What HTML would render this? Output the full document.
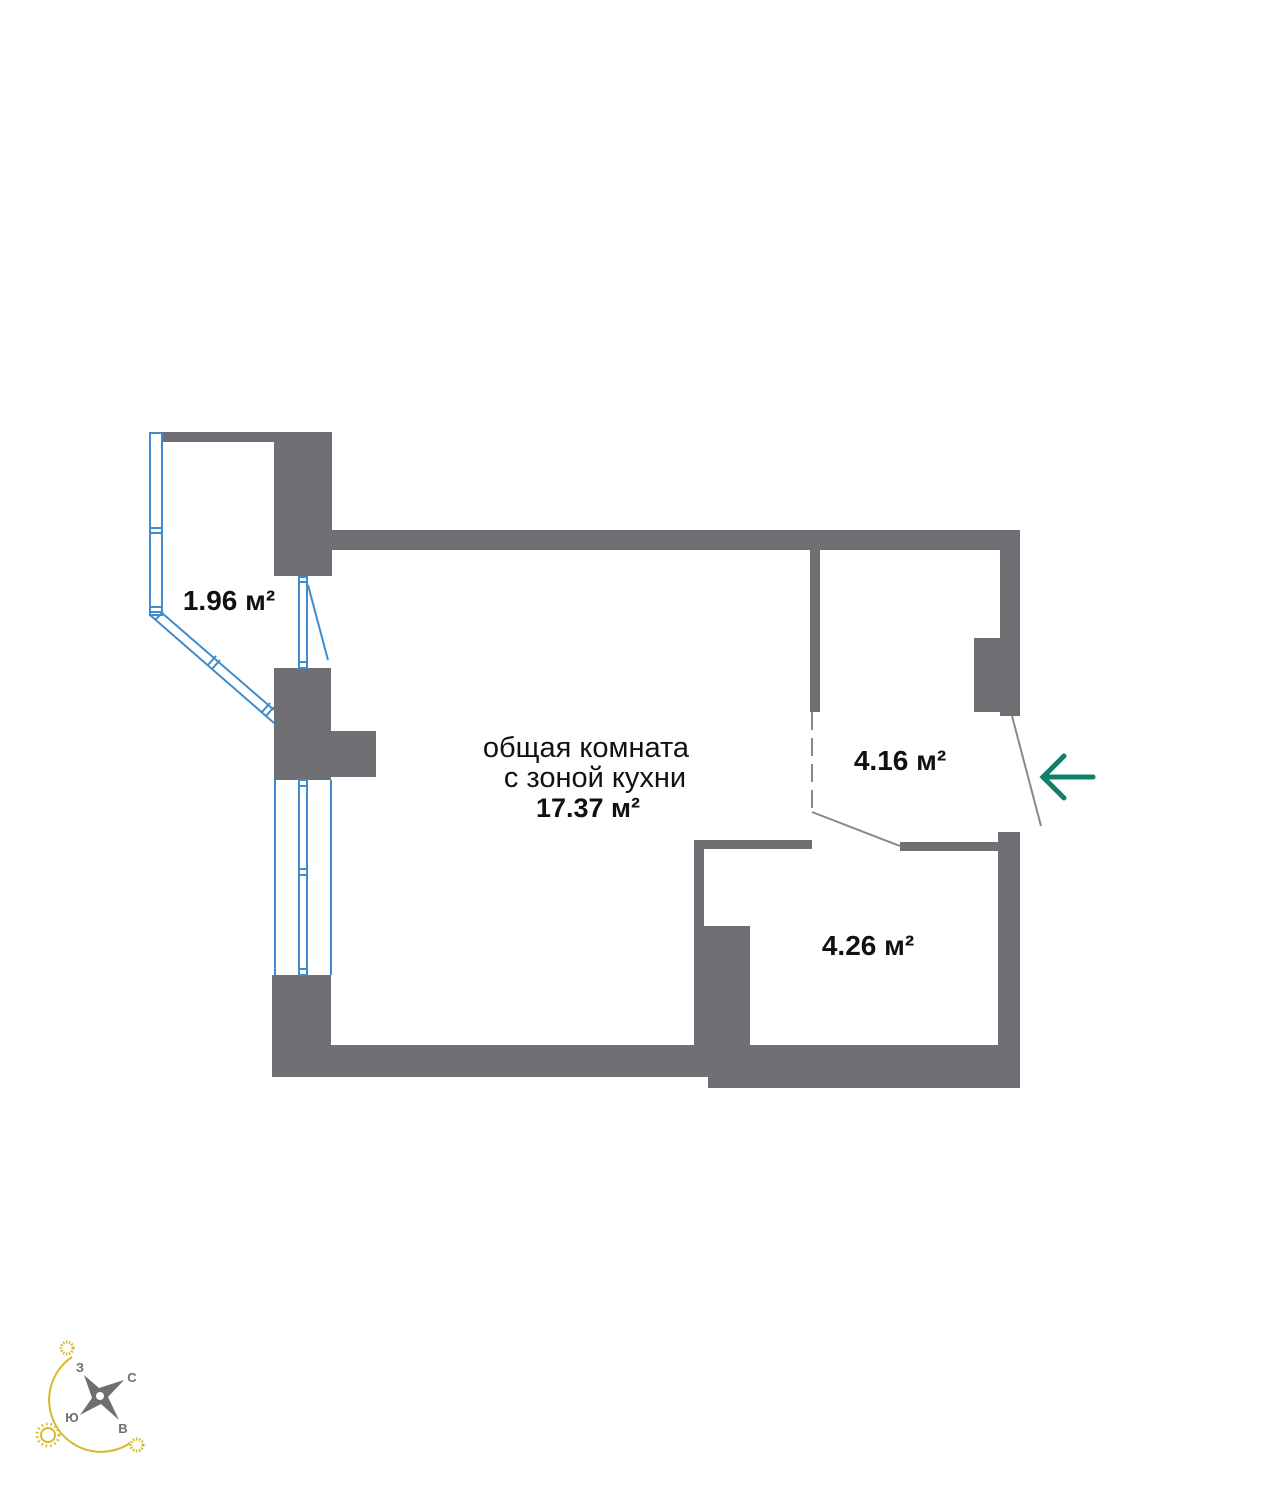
<!DOCTYPE html>
<html><head><meta charset="utf-8"><style>
html,body{margin:0;padding:0;background:#fff}
svg{display:block}
text{font-family:"Liberation Sans",sans-serif}
</style></head><body>
<svg width="1271" height="1495" viewBox="0 0 1271 1495" xmlns="http://www.w3.org/2000/svg">
<g fill="#706f73">
<rect x="163" y="432" width="168" height="10"/>
<rect x="274" y="432" width="58" height="144"/>
<rect x="331" y="530" width="689" height="20"/>
<rect x="1000" y="530" width="20" height="186"/>
<rect x="810" y="550" width="10" height="162"/>
<rect x="974" y="638" width="26" height="74"/>
<rect x="998" y="832" width="22" height="256"/>
<rect x="272" y="1045" width="748" height="32"/>
<rect x="708" y="1077" width="312" height="11"/>
<rect x="272" y="975" width="59" height="102"/>
<rect x="274" y="668" width="57" height="112"/>
<rect x="331" y="731" width="45" height="46"/>
<rect x="694" y="840" width="10" height="205"/>
<rect x="694" y="840" width="118" height="9"/>
<rect x="900" y="842" width="98" height="9"/>
<rect x="702" y="926" width="48" height="119"/>
</g>
<g stroke="#888" stroke-width="2" fill="none">
<line x1="812" y1="812" x2="900" y2="846"/>
<line x1="1012" y1="716" x2="1041" y2="826"/>
<line x1="812" y1="712" x2="812" y2="812" stroke-dasharray="18,8"/>
</g>
<g stroke="#3f8ccc" stroke-width="2" fill="none">
<rect x="150" y="433" width="12" height="182"/>
<line x1="150" y1="528" x2="162" y2="528"/><line x1="150" y1="533" x2="162" y2="533"/>
<line x1="150" y1="607" x2="162" y2="607"/><line x1="150" y1="612" x2="162" y2="612"/>
<line x1="150" y1="615" x2="274" y2="723"/>
<line x1="162" y1="613" x2="274" y2="710"/>
<line x1="208" y1="665" x2="216" y2="656"/><line x1="212" y1="669" x2="220" y2="660"/>
<line x1="262" y1="712" x2="270" y2="703"/><line x1="266" y1="716" x2="274" y2="707"/>
<line x1="155" y1="620" x2="163" y2="612"/>
<rect x="299" y="577" width="8" height="91"/>
<line x1="299" y1="582" x2="307" y2="582"/><line x1="299" y1="662" x2="307" y2="662"/>
<line x1="308" y1="585" x2="328" y2="660"/>
<line x1="275" y1="780" x2="275" y2="975"/>
<line x1="331" y1="780" x2="331" y2="975"/>
<rect x="299" y="780" width="8" height="195"/>
<line x1="299" y1="786" x2="307" y2="786"/><line x1="299" y1="969" x2="307" y2="969"/>
<line x1="299" y1="869" x2="307" y2="869"/><line x1="299" y1="875" x2="307" y2="875"/>
</g>
<g fill="#111" text-anchor="middle">
<text x="586" y="757" font-size="29">общая комната</text>
<text x="595" y="787" font-size="29">с зоной кухни</text>
<text x="588" y="817" font-size="27" font-weight="bold">17.37 м²</text>
<text x="229" y="610" font-size="28" font-weight="bold">1.96 м²</text>
<text x="900" y="770" font-size="28" font-weight="bold">4.16 м²</text>
<text x="868" y="955" font-size="28" font-weight="bold">4.26 м²</text>
</g>
<g stroke="#11806a" stroke-width="5" stroke-linecap="round" fill="none">
<line x1="1043" y1="777" x2="1093" y2="777"/>
<polyline points="1064,756 1043,777 1064,798"/>
</g>
<g>
<path d="M72 1357 A48 48 0 0 0 130 1443" stroke="#d8b82a" stroke-width="2" fill="none"/>
<circle cx="67" cy="1348" r="6" fill="none" stroke="#d8b82a" stroke-width="3" stroke-dasharray="1.5,1.5"/>
<circle cx="137" cy="1445" r="6" fill="none" stroke="#d8b82a" stroke-width="3" stroke-dasharray="1.5,1.5"/>
<circle cx="48" cy="1435" r="7" stroke="#d8b82a" stroke-width="2" fill="#fff"/>
<circle cx="48" cy="1435" r="11" stroke="#d8b82a" stroke-width="3" fill="none" stroke-dasharray="1.5,3"/>
<polygon points="84,1375 99,1388 124,1380 108,1397 119,1420 101,1404 80,1415 92,1398" fill="#6f6f73"/>
<circle cx="100" cy="1396" r="4" fill="#fff"/>
<g fill="#6f6f73" font-size="13" font-weight="bold" text-anchor="middle">
<text x="80" y="1372">З</text><text x="132" y="1382">С</text>
<text x="72" y="1422">Ю</text><text x="123" y="1433">В</text>
</g>
</g>
</svg>
</body></html>
